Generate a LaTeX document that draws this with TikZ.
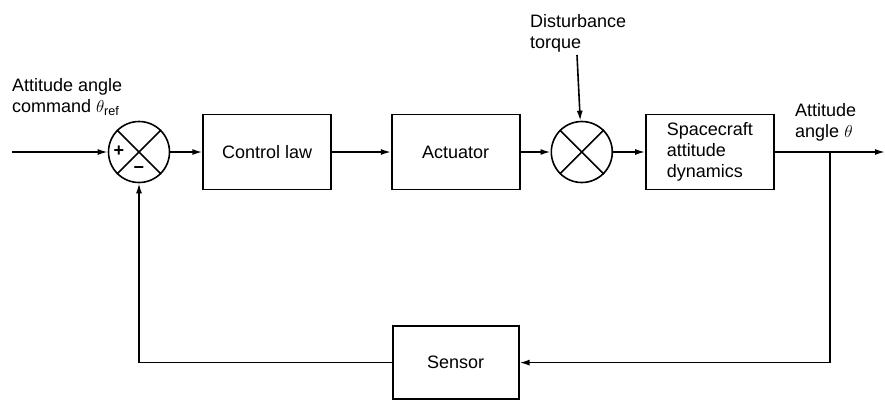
\documentclass[tikz,border=0pt]{standalone}
\usepackage{fontspec}
\setmainfont{Liberation Sans}
\usetikzlibrary{arrows.meta,positioning}

\begin{document}
\begin{tikzpicture}[
    x=1pt, y=-1pt,
    font=\fontsize{18}{21}\selectfont,
    block/.style={draw, line width=1.6pt, minimum width=128pt, minimum height=75pt, align=center},
    summer/.style={draw, circle, line width=1.6pt, minimum size=61pt, inner sep=0pt},
    label/.style={anchor=west, align=left, inner sep=0pt},
    arrow/.style={-{Latex[length=10pt,width=6pt]}, line width=1.6pt},
    cross/.style={line width=1.6pt}
]
\useasboundingbox (0,0) rectangle (885,400);
\node[summer] (sum1) at (139,152) {};
\node[block, right=32pt of sum1] (law) {Control law};
\node[block, right=59pt of law] (act) {Actuator};
\node[summer, right=30pt of act] (sum2) {};
\node[block, right=32pt of sum2, align=left] (craft) {Spacecraft\\attitude\\dynamics};
\node[block, below=135pt of act, minimum width=126pt, minimum height=73pt] (sensor) {Sensor};
% crosses in the summing junctions
\draw[cross] (sum1.45) -- (sum1.225) (sum1.135) -- (sum1.315);
\draw[cross] (sum2.45) -- (sum2.225) (sum2.135) -- (sum2.315);
\node (plus) at (119,151) {\textbf{+}};
\node (minus) at (139,170) {\textbf{\char"2212}};
% labels
\node[label] (cmd) at (12,97) {Attitude angle\\command $\theta_{\mathrm{ref}}$};
\node[label] (dist) at (530,33) {Disturbance\\torque};
\node[label] (angle) at (795,122) {Attitude\\angle $\theta$};
\coordinate (in) at (12,152);
\coordinate (out) at (885,152);
\coordinate (dtop) at (577,55);
\coordinate (branch) at (830,152);
% signal flow
\draw[arrow] (in) -- (sum1);
\draw[arrow] (sum1) -- (law);
\draw[arrow] (law) -- (act);
\draw[arrow] (act) -- (sum2);
\draw[arrow] (dtop) -- (sum2);
\draw[arrow] (sum2) -- (craft);
\draw[arrow] (craft) -- (out);
\draw[arrow] (branch) |- (sensor);
\draw[arrow] (sensor) -| (sum1);
\end{tikzpicture}
\end{document}
